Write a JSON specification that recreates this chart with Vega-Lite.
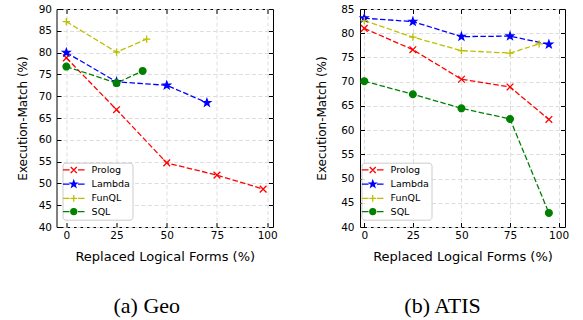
{
  "$schema": "https://vega.github.io/schema/vega-lite/v6.json",
  "background": "white",
  "padding": {"left": 15.5, "top": 3, "right": 0, "bottom": 0},
  "datasets": {
    "geo": [
      {"series": "Prolog", "x": 0, "y": 78.8},
      {"series": "Prolog", "x": 25, "y": 66.9},
      {"series": "Prolog", "x": 50, "y": 54.7},
      {"series": "Prolog", "x": 75, "y": 51.9},
      {"series": "Prolog", "x": 98, "y": 48.7},
      {"series": "Lambda", "x": 0, "y": 80.0},
      {"series": "Lambda", "x": 25, "y": 73.3},
      {"series": "Lambda", "x": 50, "y": 72.5},
      {"series": "Lambda", "x": 70, "y": 68.5},
      {"series": "FunQL", "x": 0, "y": 87.1},
      {"series": "FunQL", "x": 25, "y": 80.1},
      {"series": "FunQL", "x": 40, "y": 83.1},
      {"series": "SQL", "x": 0, "y": 76.8},
      {"series": "SQL", "x": 25, "y": 73.0},
      {"series": "SQL", "x": 38, "y": 75.8}
    ],
    "atis": [
      {"series": "Prolog", "x": 0, "y": 81.0},
      {"series": "Prolog", "x": 25, "y": 76.6},
      {"series": "Prolog", "x": 50, "y": 70.5},
      {"series": "Prolog", "x": 75, "y": 68.9},
      {"series": "Prolog", "x": 95, "y": 62.2},
      {"series": "Lambda", "x": 0, "y": 83.1},
      {"series": "Lambda", "x": 25, "y": 82.4},
      {"series": "Lambda", "x": 50, "y": 79.3},
      {"series": "Lambda", "x": 75, "y": 79.4},
      {"series": "Lambda", "x": 95, "y": 77.7},
      {"series": "FunQL", "x": 0, "y": 82.6},
      {"series": "FunQL", "x": 25, "y": 79.2},
      {"series": "FunQL", "x": 50, "y": 76.4},
      {"series": "FunQL", "x": 75, "y": 75.9},
      {"series": "FunQL", "x": 90, "y": 77.8},
      {"series": "SQL", "x": 0, "y": 70.1},
      {"series": "SQL", "x": 25, "y": 67.4},
      {"series": "SQL", "x": 50, "y": 64.5},
      {"series": "SQL", "x": 75, "y": 62.3},
      {"series": "SQL", "x": 95, "y": 42.9}
    ]
  },
  "config": {
    "font": "DejaVu Sans",
    "view": {"stroke": "black", "strokeWidth": 1},
    "axis": {
      "labelFont": "DejaVu Sans", "labelFontSize": 10.5, "labelColor": "black",
      "titleFont": "DejaVu Sans", "titleFontSize": 12, "titleFontWeight": "normal", "titleColor": "black",
      "tickColor": "black", "tickSize": -4.5, "tickWidth": 1, "domain": false,
      "gridColor": "#dddddd", "gridDash": [4, 2.5], "gridWidth": 1
    },
    "title": {"font": "Liberation Serif", "fontSize": 22, "fontWeight": "normal", "color": "black"},
    "legend": {
      "labelFont": "DejaVu Sans", "labelFontSize": 9.5, "labelColor": "black",
      "padding": 2.5, "rowPadding": 1.2, "strokeColor": "#cccccc", "cornerRadius": 3,
      "fillColor": "rgba(255,255,255,0.85)", "symbolSize": 36, "symbolOffset": 4, "labelOffset": 13.1,
      "symbolStrokeWidth": 1.3, "symbolOpacity": 1
    }
  },
  "bounds": "flush",
  "spacing": 86.5,
  "resolve": {
    "scale": {"stroke": "independent", "fill": "independent", "shape": "independent"},
    "legend": {"stroke": "independent", "fill": "independent", "shape": "independent"}
  },
  "hconcat": [
    {
      "width": 216.5, "height": 218,
      "title": {"text": "(a) Geo", "orient": "bottom", "anchor": "middle", "dx": -18, "offset": 33},
      "data": {"name": "geo"},
      "resolve": {"axis": {"x": "independent", "y": "independent"}},
      "layer": [
        {
          "mark": {"type": "line", "strokeDash": [5.5, 2.4], "strokeWidth": 1.3},
          "encoding": {
            "x": {"field": "x", "type": "quantitative", "scale": {"domain": [-4.9, 102.9], "nice": false, "zero": false},
                  "axis": {"orient": "bottom", "values": [0, 25, 50, 75, 100], "title": "Replaced Logical Forms (%)", "titleFontSize": 13, "labelPadding": 8, "titlePadding": 9}},
            "y": {"field": "y", "type": "quantitative", "scale": {"domain": [40, 90], "nice": false, "zero": false},
                  "axis": {"orient": "left", "values": [40, 45, 50, 55, 60, 65, 70, 75, 80, 85, 90], "title": "Execution-Match (%)", "labelPadding": 9.5, "titlePadding": 9}},
            "stroke": {"field": "series", "type": "nominal",
                       "scale": {"domain": ["Prolog", "Lambda", "FunQL", "SQL"], "range": ["#ff0000", "#0000ff", "#bfbf00", "#008000"]}}
          }
        },
        {
          "transform": [{"filter": "datum.x < -1000"}],
          "mark": {"type": "point", "size": 36, "opacity": 1, "strokeWidth": 1.3, "filled": false},
          "encoding": {
            "x": {"field": "x", "type": "quantitative", "axis": null},
            "y": {"field": "y", "type": "quantitative", "axis": null},
            "stroke": {"field": "series", "type": "nominal",
                       "scale": {"domain": ["Prolog", "Lambda", "FunQL", "SQL"], "range": ["#ff0000", "#0000ff", "#bfbf00", "#008000"]}},
            "fill": {"field": "series", "type": "nominal",
                     "scale": {"domain": ["Prolog", "Lambda", "FunQL", "SQL"], "range": ["#ff0000", "#0000ff", "#bfbf00", "#008000"]}},
            "shape": {"field": "series", "type": "nominal",
                      "scale": {"domain": ["Prolog", "Lambda", "FunQL", "SQL"],
                                "range": ["M-3.6,0H-1.4M1.4,0H3.6M-1,-1L1,1M-1,1L1,-1", "M-3.6,0H-1.4M1.4,0H3.6M0,-1.15L0.27,-0.37L1.09,-0.36L0.44,0.14L0.68,0.93L0,0.46L-0.68,0.93L-0.44,0.14L-1.09,-0.36L-0.27,-0.37Z", "M-3.6,0H-1.4M1.4,0H3.6M-1.1,0H1.1M0,-1.1V1.1", "M-3.6,0H-1.4M1.4,0H3.6M1,0A1,1 0 1,1 -1,0A1,1 0 1,1 1,0Z"]},
                      "legend": {"title": null, "orient": "none", "legendX": 6, "legendY": 153.7, "symbolSize": 36, "symbolStrokeWidth": 1.3, "symbolOpacity": 1}}
          }
        },
        {
          "transform": [{"filter": "datum.series === 'Prolog'"}],
          "mark": {"type": "point", "shape": "M-1,-1L1,1M-1,1L1,-1", "size": 45, "opacity": 1, "strokeWidth": 1.3, "filled": false, "stroke": "#ff0000"},
          "encoding": {
            "x": {"field": "x", "type": "quantitative", "axis": {"orient": "top", "values": [0, 25, 50, 75, 100], "labels": false, "title": null, "grid": false}},
            "y": {"field": "y", "type": "quantitative", "axis": {"orient": "right", "values": [40, 45, 50, 55, 60, 65, 70, 75, 80, 85, 90], "labels": false, "title": null, "grid": false}}
          }
        },
        {
          "transform": [{"filter": "datum.series === 'Lambda'"}],
          "mark": {"type": "point", "shape": "M0,-1.15L0.27,-0.37L1.09,-0.36L0.44,0.14L0.68,0.93L0,0.46L-0.68,0.93L-0.44,0.14L-1.09,-0.36L-0.27,-0.37Z", "size": 45, "opacity": 1, "strokeWidth": 1.3, "filled": true, "fill": "#0000ff", "stroke": "#0000ff"},
          "encoding": {
            "x": {"field": "x", "type": "quantitative", "axis": null},
            "y": {"field": "y", "type": "quantitative", "axis": null}
          }
        },
        {
          "transform": [{"filter": "datum.series === 'FunQL'"}],
          "mark": {"type": "point", "shape": "M-1.1,0H1.1M0,-1.1V1.1", "size": 45, "opacity": 1, "strokeWidth": 1.3, "filled": false, "stroke": "#bfbf00"},
          "encoding": {
            "x": {"field": "x", "type": "quantitative", "axis": null},
            "y": {"field": "y", "type": "quantitative", "axis": null}
          }
        },
        {
          "transform": [{"filter": "datum.series === 'SQL'"}],
          "mark": {"type": "point", "shape": "M1,0A1,1 0 1,1 -1,0A1,1 0 1,1 1,0Z", "size": 45, "opacity": 1, "strokeWidth": 1.3, "filled": true, "fill": "#008000", "stroke": "#008000"},
          "encoding": {
            "x": {"field": "x", "type": "quantitative", "axis": null},
            "y": {"field": "y", "type": "quantitative", "axis": null}
          }
        }
      ]
    },
    {
      "width": 205, "height": 218,
      "title": {"text": "(b) ATIS", "orient": "bottom", "anchor": "middle", "dx": -20, "offset": 33},
      "data": {"name": "atis"},
      "resolve": {"axis": {"x": "independent", "y": "independent"}},
      "layer": [
        {
          "mark": {"type": "line", "strokeDash": [5.5, 2.4], "strokeWidth": 1.3},
          "encoding": {
            "x": {"field": "x", "type": "quantitative", "scale": {"domain": [-2.2, 103.3], "nice": false, "zero": false},
                  "axis": {"orient": "bottom", "values": [0, 25, 50, 75, 100], "title": "Replaced Logical Forms (%)", "titleFontSize": 13, "labelPadding": 8, "titlePadding": 9}},
            "y": {"field": "y", "type": "quantitative", "scale": {"domain": [40, 85], "nice": false, "zero": false},
                  "axis": {"orient": "left", "values": [40, 45, 50, 55, 60, 65, 70, 75, 80, 85], "title": "Execution-Match (%)", "labelPadding": 10.5, "titlePadding": 12}},
            "stroke": {"field": "series", "type": "nominal",
                       "scale": {"domain": ["Prolog", "Lambda", "FunQL", "SQL"], "range": ["#ff0000", "#0000ff", "#bfbf00", "#008000"]}}
          }
        },
        {
          "transform": [{"filter": "datum.x < -1000"}],
          "mark": {"type": "point", "size": 36, "opacity": 1, "strokeWidth": 1.3, "filled": false},
          "encoding": {
            "x": {"field": "x", "type": "quantitative", "axis": null},
            "y": {"field": "y", "type": "quantitative", "axis": null},
            "stroke": {"field": "series", "type": "nominal",
                       "scale": {"domain": ["Prolog", "Lambda", "FunQL", "SQL"], "range": ["#ff0000", "#0000ff", "#bfbf00", "#008000"]}},
            "fill": {"field": "series", "type": "nominal",
                     "scale": {"domain": ["Prolog", "Lambda", "FunQL", "SQL"], "range": ["#ff0000", "#0000ff", "#bfbf00", "#008000"]}},
            "shape": {"field": "series", "type": "nominal",
                      "scale": {"domain": ["Prolog", "Lambda", "FunQL", "SQL"],
                                "range": ["M-3.6,0H-1.4M1.4,0H3.6M-1,-1L1,1M-1,1L1,-1", "M-3.6,0H-1.4M1.4,0H3.6M0,-1.15L0.27,-0.37L1.09,-0.36L0.44,0.14L0.68,0.93L0,0.46L-0.68,0.93L-0.44,0.14L-1.09,-0.36L-0.27,-0.37Z", "M-3.6,0H-1.4M1.4,0H3.6M-1.1,0H1.1M0,-1.1V1.1", "M-3.6,0H-1.4M1.4,0H3.6M1,0A1,1 0 1,1 -1,0A1,1 0 1,1 1,0Z"]},
                      "legend": {"title": null, "orient": "none", "legendX": 1.5, "legendY": 153.7, "symbolSize": 36, "symbolStrokeWidth": 1.3, "symbolOpacity": 1}}
          }
        },
        {
          "transform": [{"filter": "datum.series === 'Prolog'"}],
          "mark": {"type": "point", "shape": "M-1,-1L1,1M-1,1L1,-1", "size": 45, "opacity": 1, "strokeWidth": 1.3, "filled": false, "stroke": "#ff0000"},
          "encoding": {
            "x": {"field": "x", "type": "quantitative", "axis": {"orient": "top", "values": [0, 25, 50, 75, 100], "labels": false, "title": null, "grid": false}},
            "y": {"field": "y", "type": "quantitative", "axis": {"orient": "right", "values": [40, 45, 50, 55, 60, 65, 70, 75, 80, 85], "labels": false, "title": null, "grid": false}}
          }
        },
        {
          "transform": [{"filter": "datum.series === 'Lambda'"}],
          "mark": {"type": "point", "shape": "M0,-1.15L0.27,-0.37L1.09,-0.36L0.44,0.14L0.68,0.93L0,0.46L-0.68,0.93L-0.44,0.14L-1.09,-0.36L-0.27,-0.37Z", "size": 45, "opacity": 1, "strokeWidth": 1.3, "filled": true, "fill": "#0000ff", "stroke": "#0000ff"},
          "encoding": {
            "x": {"field": "x", "type": "quantitative", "axis": null},
            "y": {"field": "y", "type": "quantitative", "axis": null}
          }
        },
        {
          "transform": [{"filter": "datum.series === 'FunQL'"}],
          "mark": {"type": "point", "shape": "M-1.1,0H1.1M0,-1.1V1.1", "size": 45, "opacity": 1, "strokeWidth": 1.3, "filled": false, "stroke": "#bfbf00"},
          "encoding": {
            "x": {"field": "x", "type": "quantitative", "axis": null},
            "y": {"field": "y", "type": "quantitative", "axis": null}
          }
        },
        {
          "transform": [{"filter": "datum.series === 'SQL'"}],
          "mark": {"type": "point", "shape": "M1,0A1,1 0 1,1 -1,0A1,1 0 1,1 1,0Z", "size": 45, "opacity": 1, "strokeWidth": 1.3, "filled": true, "fill": "#008000", "stroke": "#008000"},
          "encoding": {
            "x": {"field": "x", "type": "quantitative", "axis": null},
            "y": {"field": "y", "type": "quantitative", "axis": null}
          }
        }
      ]
    }
  ]
}
